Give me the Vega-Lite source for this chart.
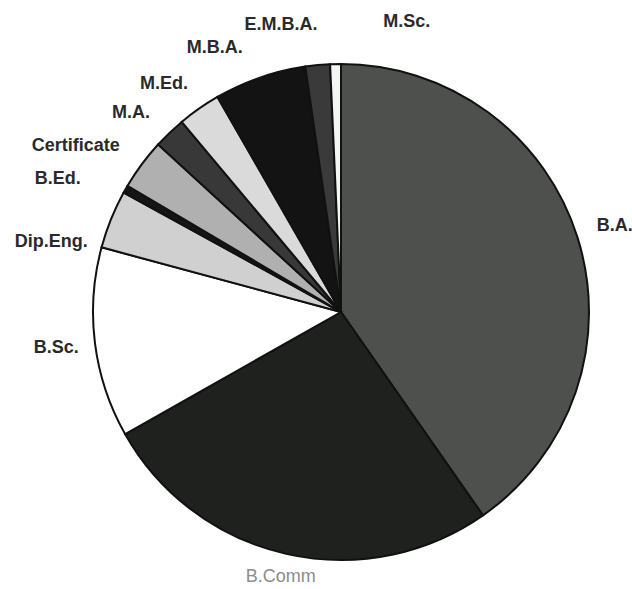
{
  "$schema": "https://vega.github.io/schema/vega-lite/v6.json",
  "autosize": "none",
  "width": 582,
  "height": 554,
  "padding": {"left": 50, "top": 35, "right": 0, "bottom": 0},
  "background": "white",
  "config": {"view": {"stroke": null}, "text": {"font": "Liberation Sans", "fontSize": 18, "fontWeight": "bold"}},
  "data": {"values": [
    {"cat": "B.A.", "pct": 40.3, "rank": 1},
    {"cat": "B.Comm", "pct": 26.5, "rank": 2},
    {"cat": "B.Sc.", "pct": 12.4, "rank": 3},
    {"cat": "Dip.Eng.", "pct": 3.8, "rank": 4},
    {"cat": "B.Ed.", "pct": 0.5, "rank": 5},
    {"cat": "Certificate", "pct": 3.3, "rank": 6},
    {"cat": "M.A.", "pct": 2.1, "rank": 7},
    {"cat": "M.Ed.", "pct": 2.8, "rank": 8},
    {"cat": "M.B.A.", "pct": 6.0, "rank": 9},
    {"cat": "E.M.B.A.", "pct": 1.6, "rank": 10},
    {"cat": "M.Sc.", "pct": 0.7, "rank": 11}
  ]},
  "encoding": {
    "theta": {"field": "pct", "type": "quantitative", "stack": true},
    "order": {"field": "rank", "type": "quantitative"},
    "color": {"field": "cat", "type": "nominal", "legend": null,
      "scale": {"domain": ["B.A.", "B.Comm", "B.Sc.", "Dip.Eng.", "B.Ed.", "Certificate", "M.A.", "M.Ed.", "M.B.A.", "E.M.B.A.", "M.Sc."],
                "range": ["#4e504e", "#1e211e", "#ffffff", "#d0d0d0", "#151515", "#b0b0b0", "#383838", "#dadada", "#131313", "#3a3a3a", "#f5f5f5"]}}
  },
  "layer": [
    {"mark": {"type": "arc", "outerRadius": 248, "stroke": "#111", "strokeWidth": 2}},
    {"mark": {"type": "text", "radius": 287},
     "encoding": {"color": {"value": "#2a2a2a"}, "detail": {"field": "cat"},
       "text": {"field": "cat", "condition": {"test": "indexof(['B.A.', 'B.Sc.'], datum.cat) < 0", "value": ""}}}},
    {"mark": {"type": "text", "radius": 272, "fontWeight": "normal"},
     "encoding": {"color": {"value": "#8c8c8c"}, "detail": {"field": "cat"},
       "text": {"field": "cat", "condition": {"test": "datum.cat !== 'B.Comm'", "value": ""}}}},
    {"mark": {"type": "text", "radius": 289, "thetaOffset": -0.05},
     "encoding": {"color": {"value": "#2a2a2a"}, "detail": {"field": "cat"},
       "text": {"field": "cat", "condition": {"test": "indexof(['M.A.', 'M.Ed.'], datum.cat) < 0", "value": ""}}}},
    {"mark": {"type": "text", "radius": 313, "thetaOffset": -0.078},
     "encoding": {"color": {"value": "#2a2a2a"}, "detail": {"field": "cat"},
       "text": {"field": "cat", "condition": {"test": "indexof(['Certificate', 'B.Ed.'], datum.cat) < 0", "value": ""}}}},
    {"mark": {"type": "text", "radius": 293, "thetaOffset": -0.112},
     "encoding": {"color": {"value": "#2a2a2a"}, "detail": {"field": "cat"},
       "text": {"field": "cat", "condition": {"test": "indexof(['M.B.A.', 'E.M.B.A.'], datum.cat) < 0", "value": ""}}}},
    {"mark": {"type": "text", "radius": 298, "thetaOffset": -0.147},
     "encoding": {"color": {"value": "#2a2a2a"}, "detail": {"field": "cat"},
       "text": {"field": "cat", "condition": {"test": "datum.cat !== 'Dip.Eng.'", "value": ""}}}},
    {"mark": {"type": "text", "radius": 297, "thetaOffset": 0.245},
     "encoding": {"color": {"value": "#2a2a2a"}, "detail": {"field": "cat"},
       "text": {"field": "cat", "condition": {"test": "datum.cat !== 'M.Sc.'", "value": ""}}}}
  ]
}
